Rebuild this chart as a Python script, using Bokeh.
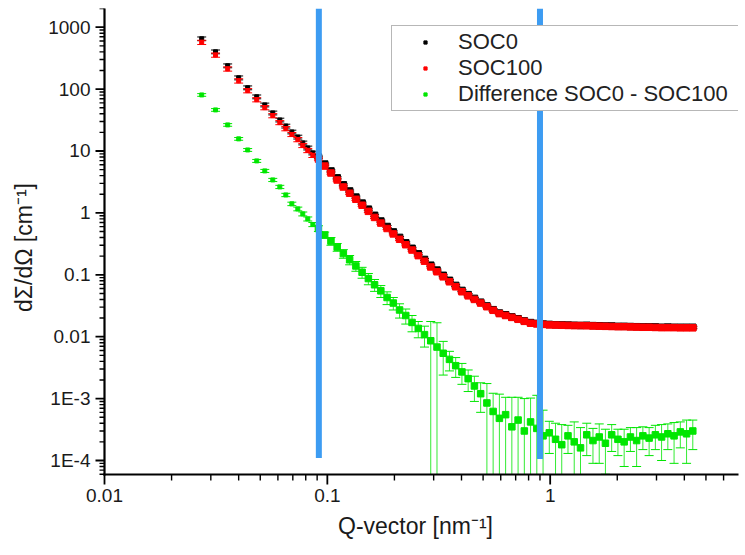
import numpy as np
from bokeh.plotting import figure
from bokeh.models import (FixedTicker, Legend, LegendItem, ColumnDataSource,
                          Range1d, CustomJSTickFormatter)
from bokeh.embed import file_html
from bokeh.resources import INLINE

# ---------------- data ----------------
q = [0.0273, 0.0315, 0.0357, 0.0400, 0.0439, 0.0482, 0.0524, 0.0569, 0.0612, 0.0651,
     0.0693, 0.0737, 0.0776, 0.0817, 0.0861,
     0.0912, 0.0973, 0.1038, 0.1107, 0.1180, 0.1259, 0.1343, 0.1432, 0.1528, 0.1629,
     0.1738, 0.1854, 0.1977, 0.2109, 0.2249, 0.2399, 0.2559, 0.2729, 0.2911, 0.3105,
     0.3311, 0.3532, 0.3767, 0.4018, 0.4285, 0.4571, 0.4875, 0.5200, 0.5546, 0.5916,
     0.6310, 0.6730, 0.7178, 0.7656, 0.8166, 0.8710, 0.9290, 0.9908, 1.057, 1.127,
     1.202, 1.282, 1.368, 1.459, 1.556, 1.660, 1.770, 1.888, 2.014, 2.148,
     2.291, 2.443, 2.606, 2.780, 2.965, 3.162, 3.373, 3.597, 3.837, 4.093, 4.365]

soc0 = [650, 400, 238, 152, 105, 75, 55.5, 41.2, 31.7, 25.3,
        20.3, 16.8, 13.5, 11.2, 9.3,
        7.97, 6.15, 4.76, 3.68, 2.84, 2.26, 1.80, 1.44, 1.15, 0.914,
        0.739, 0.603, 0.493, 0.402, 0.328, 0.268, 0.218, 0.177, 0.143, 0.119,
        0.0981, 0.0814, 0.0674, 0.0559, 0.0478, 0.0416, 0.0361, 0.0314, 0.0273, 0.0241,
        0.0226, 0.0209, 0.0195, 0.0180, 0.0169, 0.0164, 0.0160, 0.0158, 0.0156, 0.0155,
        0.0154, 0.0153, 0.0152, 0.0153, 0.0151, 0.0150, 0.0149, 0.0149, 0.0147, 0.0147,
        0.0146, 0.0145, 0.0144, 0.0144, 0.0144, 0.0142, 0.0143, 0.0142, 0.0142, 0.0142, 0.0142]

soc100 = [570, 355, 212, 136, 94.5, 67.5, 50.2, 37.3, 28.8, 23.0,
          18.5, 15.3, 12.3, 10.2, 8.5,
          7.41, 5.71, 4.41, 3.40, 2.62, 2.08, 1.66, 1.33, 1.06, 0.845,
          0.684, 0.560, 0.458, 0.375, 0.306, 0.251, 0.204, 0.166, 0.134, 0.112,
          0.0927, 0.0771, 0.0640, 0.0532, 0.0457, 0.0400, 0.0349, 0.0305, 0.0267, 0.0236,
          0.0220, 0.0205, 0.0191, 0.0177, 0.0165, 0.0161, 0.0158, 0.0155, 0.0154, 0.0153,
          0.0152, 0.0151, 0.0151, 0.0150, 0.0149, 0.0148, 0.0147, 0.0146, 0.0145, 0.0145,
          0.0144, 0.0143, 0.0142, 0.0142, 0.0141, 0.0140, 0.0140, 0.0140, 0.0139, 0.0139, 0.0139]

soc_err = [45, 28, 17, 11, 7.5, 5.3, 3.9, 2.9, 2.2, 1.8,
           1.4, 1.2, 0.95, 0.8, 0.65,
           0.30, 0.23, 0.18, 0.14, 0.10, 0.083, 0.066, 0.053, 0.042, 0.034,
           0.027, 0.022, 0.018, 0.015, 0.012, 0.010, 0.0082, 0.0066, 0.0054, 0.0045,
           0.0037, 0.0031, 0.0026, 0.0021, 0.0018, 0.0016, 0.0014, 0.0012, 0.0011, 0.00094,
           0.00088, 0.00082, 0.00076, 0.00071, 0.00066, 0.00064, 0.00063, 0.00062, 0.00062, 0.00061,
           0.00061, 0.00060, 0.00060, 0.00060, 0.00060, 0.00059, 0.00059, 0.00058, 0.00058, 0.00058,
           0.00058, 0.00057, 0.00057, 0.00057, 0.00056, 0.00056, 0.00056, 0.00056, 0.00056, 0.00056, 0.00056]

diff = [80.5, 46.1, 26.4, 15.7, 10.4, 6.92, 4.77, 3.41, 2.63, 1.95,
        1.40, 1.16, 0.964, 0.80, 0.65,
        0.56, 0.44, 0.35, 0.28, 0.22, 0.175, 0.139, 0.110, 0.087, 0.069,
        0.055, 0.043, 0.035, 0.027, 0.022, 0.017, 0.0136, 0.0108, 0.0086, 0.0068,
        0.0054, 0.0043, 0.0034, 0.0027, 0.0021, 0.0016, 0.0012, 0.00085, 0.00062, 0.00048,
        0.00055, 0.00035, 0.00045, 0.00030, 0.00042, 0.00033, 0.00025, 0.00028, 0.00022, 0.00018,
        0.00025, 0.00020, 0.00016, 0.00026, 0.00021, 0.00024, 0.00019, 0.00026, 0.00022, 0.00020,
        0.00024, 0.00021, 0.00025, 0.00023, 0.00026, 0.00024, 0.00027, 0.00025, 0.00029, 0.00027, 0.00030]

diff_err = [4, 2.3, 1.3, 0.8, 0.55, 0.38, 0.27, 0.2, 0.16, 0.12,
            0.09, 0.08, 0.07, 0.06, 0.05,
            0.06, 0.05, 0.05, 0.04, 0.035, 0.03, 0.025, 0.022, 0.018, 0.015,
            0.012, 0.010, 0.008, 0.007, 0.006, 0.005, 0.004, 0.004, 0.009, 0.010,
            0.003, 0.0015, 0.0012, 0.0010, 0.0008, 0.0007, 0.0006, 0.0009, 0.0006, 0.0007,
            0.0005, 0.0007, 0.0006, 0.0007, 0.0006, 0.0008, 0.0004, 0.00015, 0.00018, 0.00020,
            0.00012, 0.00022, 0.00018, 0.00014, 0.00012, 0.00015, 0.00013, 0.00012, 0.00010, 0.00012,
            0.00010, 0.00013, 0.00010, 0.00011, 0.00011, 0.00014, 0.00012, 0.00016, 0.00013, 0.00018, 0.00015]

# vertical blue marker lines
marker_q = [0.0916, 0.90]
marker_bottom = [1.10e-4, 1.06e-4]

series_names = ["SOC0", "SOC100", "Difference SOC0 - SOC100"]
series_colors = ["#000000", "#ff0000", "#00e600"]

x_ticks = [0.01, 0.1, 1]
x_tick_labels = ["0.01", "0.1", "1"]
y_ticks = [1e-4, 1e-3, 0.01, 0.1, 1, 10, 100, 1000]
y_tick_labels = ["1E-4", "1E-3", "0.01", "0.1", "1", "10", "100", "1000"]

# axis extents: the axes cross at (AX_X, AX_Y)
AX_X, X_END = 0.01, 7.0
AX_Y, Y_END = 5.94e-5, 2005.0

assert len(q) == len(soc0) == len(soc100) == len(soc_err) == len(diff) == len(diff_err)

# ---------------- geometry / style ----------------
FONT = "Liberation Sans"
AXIS_COLOR = "#000000"
W, H = 745, 555
B_LEFT, B_RIGHT, B_TOP, B_BOTTOM = 92, 7, 8, 69
PAD = 12                     # px between frame edge and drawn axis line (room for outward ticks)
FRAME_W = W - B_LEFT - B_RIGHT
FRAME_H = H - B_TOP - B_BOTTOM

Lx = (np.log10(X_END) - np.log10(AX_X)) / (1 - PAD / FRAME_W)
Ly = (np.log10(Y_END) - np.log10(AX_Y)) / (1 - PAD / FRAME_H)
X_START = 10 ** (np.log10(X_END) - Lx)
Y_START = 10 ** (np.log10(Y_END) - Ly)
dx_px = Lx / FRAME_W         # decades per pixel
dy_px = Ly / FRAME_H

p = figure(width=W, height=H, x_axis_type="log", y_axis_type="log",
           x_range=Range1d(X_START, X_END), y_range=Range1d(Y_START, Y_END),
           output_backend="svg", toolbar_location=None,
           min_border_left=B_LEFT, min_border_right=B_RIGHT,
           min_border_top=B_TOP, min_border_bottom=B_BOTTOM)

p.xgrid.visible = False
p.ygrid.visible = False
p.outline_line_color = None
p.background_fill_color = "white"
p.border_fill_color = "white"

qa = np.array(q, dtype=float)
msize = np.where(qa > 0.088, 6.5, 4.0)
renderers = []
for vals, errs, color in [(soc0, soc_err, series_colors[0]),
                          (soc100, soc_err, series_colors[1]),
                          (diff, diff_err, series_colors[2])]:
    v = np.array(vals, dtype=float)
    e = np.array(errs, dtype=float)
    lo_raw = v - e
    lo = np.where(lo_raw > AX_Y, lo_raw, AX_Y)          # bars running off the bottom stop at the axis
    lo_cap = np.where(lo_raw > AX_Y, lo_raw, np.nan)    # no cap where the bar runs off
    hi = v + e
    src = ColumnDataSource(dict(q=q, v=v, lo=lo, hi=hi, lo_cap=lo_cap, s=msize))
    p.segment(x0="q", y0="lo", x1="q", y1="hi", source=src, line_color=color, line_width=1, line_alpha=0.8)
    p.scatter(x="q", y="hi", source=src, marker="dash", size=9, line_color=color, line_width=1)
    p.scatter(x="q", y="lo_cap", source=src, marker="dash", size=9, line_color=color, line_width=1)
    r = p.scatter(x="q", y="v", source=src, marker="square", size="s", fill_color=color, line_color=color)
    renderers.append(r)

# blue marker lines
p.segment(x0=marker_q, y0=marker_bottom, x1=marker_q, y1=[Y_END] * len(marker_q),
          line_color="#3d9cf2", line_width=6, line_cap="butt")

# ---------------- drawn axes (lines + outward major/minor ticks) ----------------
minor_vals = [m * 10.0 ** e for e in range(-5, 4) for m in range(2, 10)]
x_minor = [t for t in minor_vals if AX_X < t < X_END]
y_minor = [t for t in minor_vals if AX_Y < t < Y_END]

# axis lines
p.segment(x0=[AX_X, AX_X], y0=[AX_Y, AX_Y], x1=[AX_X, X_END], y1=[Y_END, AX_Y],
          line_color=AXIS_COLOR, line_width=2.2, line_cap="square")
# y ticks (pointing left)
for vals_, length, lw in ((y_ticks, 9, 1.8), (y_minor, 5, 1.4)):
    x_in = [AX_X] * len(vals_)
    x_out = [AX_X * 10 ** (-length * dx_px)] * len(vals_)
    p.segment(x0=x_in, y0=vals_, x1=x_out, y1=vals_, line_color=AXIS_COLOR, line_width=lw)
# x ticks (pointing down)
for vals_, length, lw in ((x_ticks, 10, 1.8), (x_minor, 6, 1.4)):
    y_in = [AX_Y] * len(vals_)
    y_out = [AX_Y * 10 ** (-length * dy_px)] * len(vals_)
    p.segment(x0=vals_, y0=y_in, x1=vals_, y1=y_out, line_color=AXIS_COLOR, line_width=lw)

# ---------------- legend ----------------
legend = Legend(items=[LegendItem(label=n, renderers=[r]) for n, r in zip(series_names, renderers)],
                location=(299, 375), label_text_font=FONT, label_text_font_size="22px",
                label_text_color="#222222", border_line_color="#707070", border_line_width=1,
                background_fill_color="white", background_fill_alpha=1.0,
                padding=3, margin=0, spacing=-1, glyph_width=60, glyph_height=8,
                label_height=20, label_standoff=3, label_width=320)
p.add_layout(legend, "center")

# ---------------- Bokeh axes: labels and titles only ----------------
fmt_code = """
for (let i = 0; i < tick_vals.length; i++) {
    if (Math.abs(tick / tick_vals[i] - 1) < 1e-6) { return tick_text[i]; }
}
return "";
"""
p.xaxis.ticker = FixedTicker(ticks=x_ticks)
p.yaxis.ticker = FixedTicker(ticks=y_ticks)
p.xaxis.formatter = CustomJSTickFormatter(args=dict(tick_vals=x_ticks, tick_text=x_tick_labels), code=fmt_code)
p.yaxis.formatter = CustomJSTickFormatter(args=dict(tick_vals=y_ticks, tick_text=y_tick_labels), code=fmt_code)

for ax in (p.xaxis, p.yaxis):
    ax.axis_line_color = None
    ax.major_tick_line_color = None
    ax.minor_tick_line_color = None
    ax.major_tick_in = 0
    ax.major_tick_out = 0
    ax.minor_tick_in = 0
    ax.minor_tick_out = 0
    ax.major_label_text_font = FONT
    ax.major_label_text_font_size = "19px"
    ax.major_label_text_color = "#1a1a1a"
    ax.axis_label_text_font = FONT
    ax.axis_label_text_font_size = "23px"
    ax.axis_label_text_font_style = "normal"
    ax.axis_label_text_color = "#1a1a1a"
    ax.major_label_standoff = 2
    ax.axis_label_standoff = 8

p.xaxis.axis_label = "Q-vector [nm\u207b\u00b9]"
p.yaxis.axis_label = "d\u03a3/d\u03a9 [cm\u207b\u00b9]"

open("out.html", "w").write(file_html(p, INLINE))
